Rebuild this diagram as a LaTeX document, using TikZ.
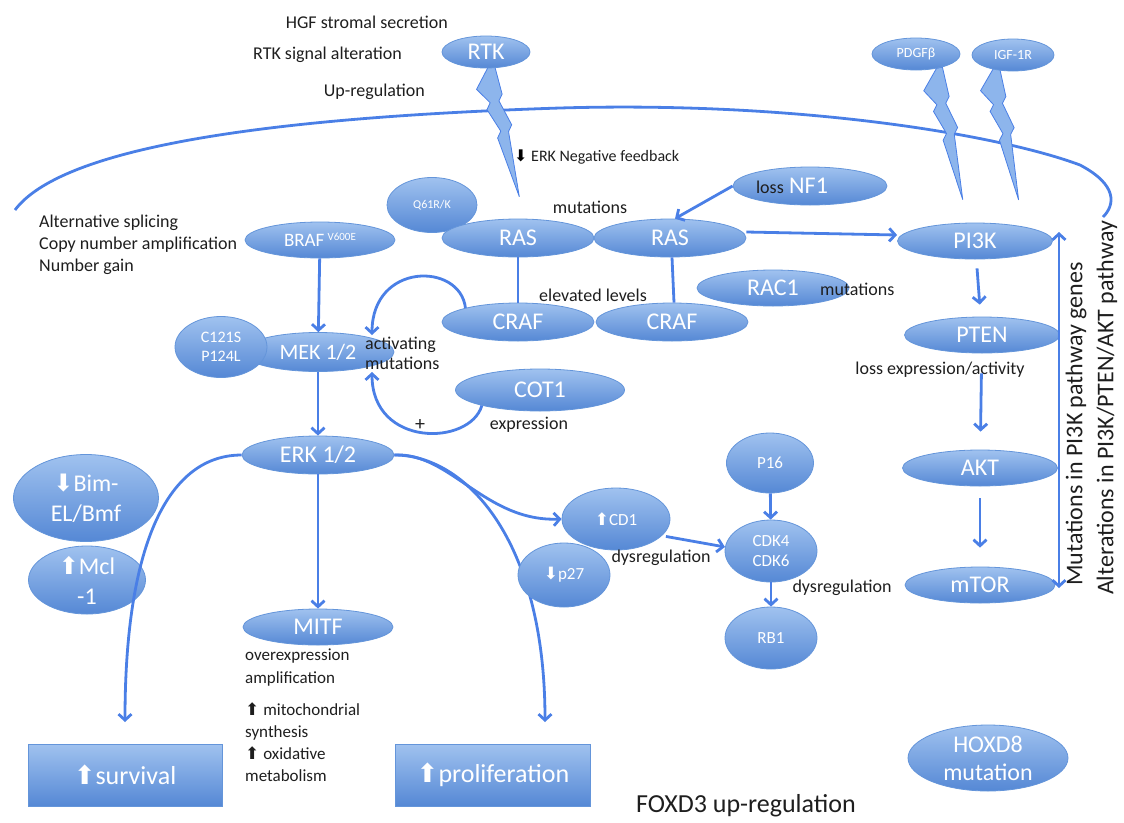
\documentclass[tikz,border=0pt]{standalone}
\usepackage{fontspec}
\setmainfont{Carlito}
\newfontfamily\arrfont{DejaVu Sans}
\usetikzlibrary{shapes.geometric,arrows.meta}
\definecolor{lnc}{HTML}{4A7FE6}
\definecolor{etop}{HTML}{A0C2EF}
\definecolor{ebot}{HTML}{5588D5}
\definecolor{edgec}{HTML}{6495DA}
\definecolor{boltc}{HTML}{8DB5EC}
\definecolor{txt}{HTML}{1E1E1E}
\newcommand{\uparr}{{\arrfont ⬆}}
\newcommand{\dnarr}{{\arrfont ⬇}}
\newcommand{\fsz}[1]{\fontsize{#1}{#1}\selectfont}
\begin{document}
\begin{tikzpicture}[x=1pt,y=-1pt,
  ell/.style={ellipse, draw=edgec, line width=0.8pt, top color=etop, bottom color=ebot, text=white, inner sep=0pt, align=center},
  boxn/.style={rectangle, draw=edgec, line width=0.8pt, top color=etop, bottom color=ebot, text=white, inner sep=0pt},
  lbl/.style={text=txt, inner sep=0pt, font={\fsz{18}}},
  conn/.style={draw=lnc, line width=2.8pt},
  arr/.style={conn, -{Straight Barb[length=6pt,width=13pt]}},
  dbl/.style={conn, {Straight Barb[length=6pt,width=13pt]}-{Straight Barb[length=6pt,width=13pt]}},
  bolt/.pic={\path[fill=boltc, draw=lnc, line width=0.8pt]
     (-1,0) -- (3,0) -- (4,30) -- (1,36) -- (6,62) -- (3,68) -- (1,134)
     -- (-5,72) -- (-2,66) -- (-8,42) -- (-5,36) -- (-12,20) -- cycle;}
]
\useasboundingbox (0,0) rectangle (1124,822);

% membrane arc
\draw[conn] (15,210) .. controls (60,150) and (250,118) .. (560,108)
  .. controls (800,101) and (1000,135) .. (1080,165)
  .. controls (1118,185) and (1115,205) .. (1103,217);

% receptor bolts
\coordinate (bRTK) at (490,66);
\coordinate (bPDGF) at (938,68);
\coordinate (bIGF) at (995,68);
\pic[rotate=12, xscale=1.5] at (bRTK) {bolt};
\pic[rotate=10, xscale=1.5] at (bPDGF) {bolt};
\pic[rotate=9.5, xscale=1.5] at (bIGF) {bolt};

% receptors
\node[ell, minimum width=88, minimum height=32, font={\fsz{24}}] (rtk) at (486,52) {RTK};
\node[ell, minimum width=88, minimum height=32, font={\fsz{14}}] (pdgf) at (916,54) {PDGFβ};
\node[ell, minimum width=82, minimum height=32, font={\fsz{14}}] (igf) at (1013,55) {IGF-1R};

% top texts
\node[lbl, anchor=east] (hgf) at (448,22) {HGF stromal secretion};
\node[lbl, anchor=east] (rtksig) at (402,55) {RTK signal alteration};
\node[lbl, anchor=east] (upreg) at (425,92) {Up-regulation};
\node[lbl, anchor=west, font={\fsz{16}}] (negfb) at (514,157) {{\color{black}\dnarr}\ ERK Negative feedback};

% RAS layer
\node[ell, minimum width=90, minimum height=55, font={\fsz{12}}] (q61) at (432,205) {Q61R/K};
\node[ell, minimum width=152, minimum height=38, font={\fsz{24}}] (ras1) at (518,238) {RAS};
\node[ell, minimum width=152, minimum height=38, font={\fsz{24}}] (ras2) at (670,238) {RAS};
\node[lbl] (mut1) at (590,207) {mutations};
\node[ell, minimum width=154, minimum height=38, font={\fsz{24}}] (nf1) at (810,186) {{\color{txt}\fsz{18}loss} NF1\hspace*{36pt}};
\node[ell, minimum width=155, minimum height=36, font={\fsz{24}}] (pi3k) at (975,241) {PI3K};

\node[ell, minimum width=152, minimum height=38, font={\fsz{24}}] (craf1) at (518,322) {CRAF};
\node[ell, minimum width=152, minimum height=38, font={\fsz{24}}] (craf2) at (672,322) {CRAF};
\node[lbl] (elev) at (593,295) {elevated levels};
\node[ell, minimum width=152, minimum height=36, font={\fsz{24}}] (rac1) at (773,288) {RAC1};
\node[lbl, anchor=west] (mut2) at (820,289) {mutations};

\draw[conn] (ras1) -- (craf1);
\draw[conn] ([xshift=2pt]ras2.south) -- ([xshift=2pt]craf2.north);
\draw[arr] (nf1.west) -- ([xshift=5pt]ras2.north);
\draw[arr] ([yshift=6pt]ras2.east) -- ([yshift=6pt]pi3k.west);

% BRAF / MEK / ERK
\node[lbl, anchor=west, align=left, font={\fontsize{18}{22}\selectfont}] (alt) at (39,245) {Alternative splicing\\Copy number amplification\\Number gain};
\node[ell, minimum width=150, minimum height=36, font={\fsz{19}}] (braf) at (320,240) {BRAF\,\raisebox{6pt}{\fsz{11}V600E}};
\node[ell, minimum width=152, minimum height=39, font={\fsz{22}}] (mek) at (318,352) {MEK 1/2};
\node[ell, minimum width=92, minimum height=61, font={\fontsize{16}{19}\selectfont}] (c121) at (221,347) {C121S\\P124L};
\node[lbl, anchor=west, align=left, font={\fontsize{18}{20}\selectfont}] (actmut) at (365,353) {activating\\mutations};
\node[ell, minimum width=169, minimum height=42, font={\fsz{24}}] (cot1) at (540,390) {COT1};
\node[lbl] (expr) at (529,425) {expression};
\node[lbl, font={\fsz{20}}] (plus) at (420,425) {+};
\node[ell, minimum width=152, minimum height=38, font={\fsz{24}}] (erk) at (318,455) {ERK 1/2};

\draw[arr] (braf) -- (mek);
\draw[arr] (mek) -- (erk);
\draw[arr] (craf1.165) .. controls (460,262) and (372,262) .. (372,335);
\draw[arr] (cot1.195) .. controls (470,446) and (372,448) .. (372,372);

% left: apoptosis regulators
\node[ell, minimum width=145, minimum height=87, font={\fontsize{24}{30}\selectfont}] (bim) at (86,498) {\dnarr Bim-\\EL/Bmf};
\node[ell, minimum width=117, minimum height=66, font={\fontsize{24}{30}\selectfont}] (mcl) at (87,580) {\uparr Mcl\\-1};

% MITF
\node[ell, minimum width=150, minimum height=36, font={\fsz{24}}] (mitf) at (318,627) {MITF};
\draw[arr] (erk) -- (mitf);
\node[lbl, anchor=west, align=left, font={\fontsize{17}{23}\selectfont}] (overexp) at (245,668) {overexpression\\amplification};
\node[lbl, anchor=west, align=left, font={\fontsize{17}{22}\selectfont}] (mito) at (245,742) {\uparr\ mitochondrial\\synthesis\\\uparr\ oxidative\\metabolism};

% outcomes
\node[boxn, minimum width=194, minimum height=62, font={\fsz{26}}] (surv) at (125,775) {\uparr survival};
\node[boxn, minimum width=195, minimum height=62, font={\fsz{26}}] (prolif) at (493,775) {\uparr proliferation};
\coordinate (survtip) at (125,722);
\coordinate (proltip) at (545,722);
\draw[arr] (erk.west) .. controls (170,455) and (125,540) .. (survtip);
\draw[arr] (erk.east) .. controls (466,455) and (545,540) .. (proltip);

% cell cycle
\node[ell, minimum width=108, minimum height=62, font={\fsz{17}}] (cd1) at (616,519) {\uparr CD1};
\node[ell, minimum width=92, minimum height=64, font={\fsz{17}}] (p27) at (564,575) {\dnarr p27};
\node[lbl] (dys1) at (661,558) {dysregulation};
\node[ell, minimum width=87, minimum height=60, font={\fsz{17}}] (p16) at (770,463) {P16};
\node[ell, minimum width=92, minimum height=62, font={\fontsize{17}{20}\selectfont}] (cdk) at (771,551) {CDK4\\CDK6};
\node[ell, minimum width=92, minimum height=62, font={\fsz{17}}] (rb1) at (771,638) {RB1};
\node[lbl] (dys2) at (842,588) {dysregulation};
\draw[arr] (erk.east) .. controls (450,452) and (485,522) .. (cd1.west);
\draw[arr, shorten <=4pt] (cd1.-20) -- (cdk.175);
\draw[arr] (p16) -- (cdk);
\draw[arr] (cdk) -- (rb1);

% PI3K pathway
\node[ell, minimum width=155, minimum height=36, font={\fsz{24}}] (pten) at (982,335) {PTEN};
\node[lbl] (lossexp) at (940,370) {loss expression/activity};
\node[ell, minimum width=155, minimum height=36, font={\fsz{24}}] (akt) at (980,468) {AKT};
\node[ell, minimum width=150, minimum height=36, font={\fsz{24}}] (mtor) at (980,585) {mTOR};
\draw[arr, shorten <=9pt, shorten >=12pt] (pi3k) -- (pten);
\draw[arr, shorten <=20pt, shorten >=18pt] (pten) -- (akt);
\draw[arr, shorten <=12pt, shorten >=19pt] (akt) -- (mtor);
\coordinate (dtop) at (1059,232);
\coordinate (dbot) at (1059,588);
\draw[dbl] (dtop) -- (dbot);
\node[lbl, rotate=90, font={\fsz{24}}] (mutpi3k) at (1076,424) {Mutations in PI3K pathway genes};
\node[lbl, rotate=90, font={\fsz{24}}] (altpi3k) at (1107,408) {Alterations in PI3K/PTEN/AKT pathway};

% bottom right
\node[ell, minimum width=160, minimum height=66, font={\fontsize{24}{28}\selectfont}] (hoxd8) at (988,758) {HOXD8\\mutation};
\node[lbl, font={\fsz{26}}] (foxd3) at (746,806) {FOXD3 up-regulation};
\end{tikzpicture}
\end{document}
